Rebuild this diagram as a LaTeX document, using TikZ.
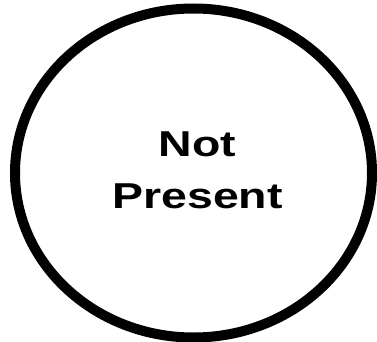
\documentclass[tikz,border=0pt]{standalone}
\usepackage{fontspec}
\setmainfont{Liberation Sans}
\usetikzlibrary{shapes.geometric}
\begin{document}
\begin{tikzpicture}[x=1pt,y=1pt,
  ring/.style={ellipse,draw=black,line width=10pt,inner sep=0pt,minimum width=357pt,minimum height=329pt},
  label/.style={align=center,inner sep=0pt}]
\useasboundingbox (0,0) rectangle (377,-342);
\node[ring] (e) at (193.5,-173) {};
\node[label] (t) at (197.5,-172.5) {\scalebox{1.29}[1]{\fontsize{36}{52}\selectfont\bfseries\begin{tabular}{@{}c@{}}Not\\Present\end{tabular}}};
\end{tikzpicture}
\end{document}
